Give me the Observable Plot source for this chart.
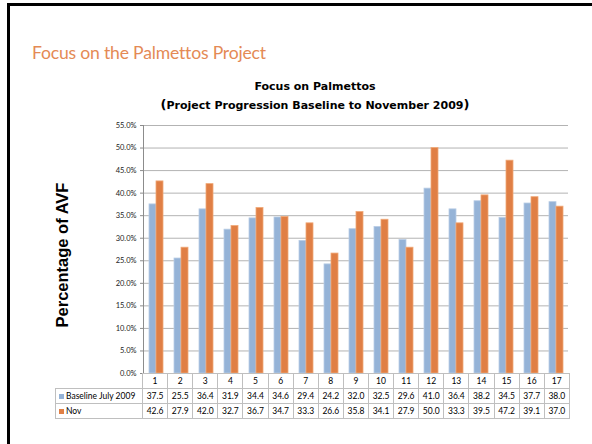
<!DOCTYPE html>
<html><head><meta charset="utf-8">
<script src="https://cdn.jsdelivr.net/npm/d3@7"></script>
<script src="https://cdn.jsdelivr.net/npm/@observablehq/plot@0.6"></script>
<style>
html,body{margin:0;padding:0;background:#fff;overflow:hidden;}
body{width:592px;height:444px;position:relative;font-family:Lato,"Noto Sans",sans-serif;}
#frameTop{position:absolute;left:7px;top:3px;width:585px;height:3px;background:#000;}
#frameLeft{position:absolute;left:7px;top:3px;width:3px;height:441px;background:#000;}
#slideTitle{position:absolute;left:32px;top:42px;font-size:17.6px;color:#E48A55;white-space:nowrap;letter-spacing:-0.2px;}
.ct{position:absolute;left:115px;width:400px;text-align:center;font-family:"DejaVu Sans",sans-serif;font-weight:bold;font-size:11px;color:#000;white-space:nowrap;}
#t1{top:80px;}
#t2{top:97px;}
#t2 .p{font-size:13px;}
#ylab{position:absolute;left:62px;top:255px;transform:translate(-50%,-50%) rotate(-90deg);font-family:"Liberation Sans",Arial,sans-serif;font-weight:bold;font-size:16.5px;white-space:nowrap;color:#000;}
#chart{position:absolute;left:0;top:115px;}
#tbl{position:absolute;left:55px;top:373px;border-collapse:collapse;table-layout:fixed;font-family:Lato,sans-serif;font-size:8.5px;color:#000;}
#tbl td{border:1px solid #BFBFBF;height:14px;padding:0;text-align:center;line-height:14px;white-space:nowrap;overflow:hidden;}
#tbl td.blank{border-top:none;border-left:none;border-bottom:1px solid #BFBFBF;}
#tbl td.lab{text-align:left;padding-left:3px;}
.sw{display:inline-block;width:5px;height:5px;margin-right:2px;vertical-align:0px;}
</style>
</head><body>
<div id="frameTop"></div>
<div id="frameLeft"></div>
<div id="slideTitle">Focus on the Palmettos Project</div>
<div class="ct" id="t1">Focus on Palmettos</div>
<div class="ct" id="t2"></div>
<div id="ylab">Percentage of  AVF</div>
<div id="chart"></div>
<table id="tbl"></table>
<script>
const categories = ["1","2","3","4","5","6","7","8","9","10","11","12","13","14","15","16","17"];
const seriesNames = ["Baseline July 2009","Nov"];
const baseline = [37.5,25.5,36.4,31.9,34.4,34.6,29.4,24.2,32.0,32.5,29.6,41.0,36.4,38.2,34.5,37.7,38.0];
const nov = [42.6,27.9,42.0,32.7,36.7,34.7,33.3,26.6,35.8,34.1,27.9,50.0,33.3,39.5,47.2,39.1,37.0];
const yTicks = [0,5,10,15,20,25,30,35,40,45,50,55];
const seriesColors = ["#95B3D7","#E07F45"];
const seriesStrokes = ["#B9CDE5","#F0A877"];
const subtitleText = "Project Progression Baseline to November 2009";

document.getElementById("t2").innerHTML = '<span class="p">(</span>' + subtitleText + '<span class="p">)</span>';

const seriesValues = [baseline, nov];
const rows = categories.flatMap((c, i) => seriesNames.map((s, j) => ({cat: c, series: s, value: seriesValues[j][i]})));

const chart = Plot.plot({
  width: 592,
  height: 265,
  marginTop: 10,
  marginBottom: 7,
  marginLeft: 142,
  marginRight: 23,
  style: {background: "transparent", fontFamily: "Lato, sans-serif", fontSize: "7.5px", color: "#000"},
  fx: {domain: categories, padding: 0, axis: null},
  x: {domain: seriesNames, paddingInner: 0, paddingOuter: 0.75, axis: null},
  y: {domain: [0, 55], axis: null},
  color: {domain: seriesNames, range: seriesColors},
  marks: [
    Plot.ruleY(yTicks, {y: d => d, stroke: "#B3B3B3", strokeWidth: 1}),
    Plot.barY(rows, {fx: "cat", x: "series", y: "value", fill: "series",
      stroke: d => seriesStrokes[seriesNames.indexOf(d.series)], strokeWidth: 0.8}),
    Plot.axisY(yTicks, {tickSize: 3, tickPadding: 4, stroke: "#8C8C8C", fill: "#222",
      tickFormat: d => d.toFixed(1) + "%", label: null, facetAnchor: "left"}),
    Plot.frame({anchor: "left", stroke: "#8C8C8C", facetAnchor: "left"})
  ]
});
document.getElementById("chart").appendChild(chart);

// data table below the chart
const tbl = document.getElementById("tbl");
const colW = 427 / categories.length;
let html = '<colgroup><col style="width:87px">' + categories.map(() => `<col style="width:${colW}px">`).join("") + '</colgroup>';
html += '<tr><td class="blank"></td>' + categories.map(c => `<td>${c}</td>`).join("") + '</tr>';
seriesNames.forEach((s, j) => {
  html += `<tr><td class="lab"><span class="sw" style="background:${seriesColors[j]}"></span>${s}</td>` +
    seriesValues[j].map(v => `<td>${v.toFixed(1)}</td>`).join("") + '</tr>';
});
tbl.innerHTML = html;
tbl.style.width = (87 + 427) + "px";
</script>
</body></html>
